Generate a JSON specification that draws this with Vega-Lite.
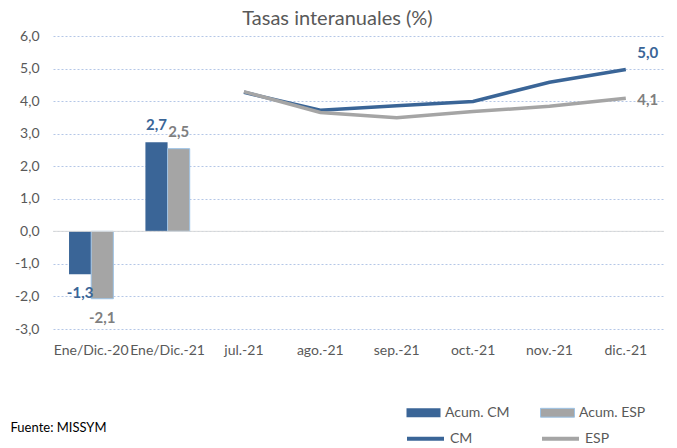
{
  "$schema": "https://vega.github.io/schema/vega-lite/v6.json",
  "width": 611,
  "height": 293,
  "autosize": "none",
  "padding": {"left": 53, "top": 36, "right": 13, "bottom": 119},
  "background": "white",
  "title": {"text": "Tasas interanuales (%)", "fontSize": 20, "fontWeight": "normal", "color": "#595959", "offset": 0, "dx": -21},
  "config": {
    "font": "Lato",
    "locale": {"number": {"decimal": ",", "thousands": ".", "grouping": [3], "currency": ["", " €"], "minus": "-"}},
    "view": {"stroke": null}
  },
  "datasets": {
    "barras": [
      {"cat": "Ene/Dic.-20", "serie": "Acum. CM", "valor": -1.32},
      {"cat": "Ene/Dic.-20", "serie": "Acum. ESP", "valor": -2.07},
      {"cat": "Ene/Dic.-21", "serie": "Acum. CM", "valor": 2.74},
      {"cat": "Ene/Dic.-21", "serie": "Acum. ESP", "valor": 2.54}
    ],
    "lineas": [
      {"cat": "jul.-21", "serie": "CM", "valor": 4.27},
      {"cat": "ago.-21", "serie": "CM", "valor": 3.72},
      {"cat": "sep.-21", "serie": "CM", "valor": 3.86},
      {"cat": "oct.-21", "serie": "CM", "valor": 3.99},
      {"cat": "nov.-21", "serie": "CM", "valor": 4.58},
      {"cat": "dic.-21", "serie": "CM", "valor": 4.97},
      {"cat": "jul.-21", "serie": "ESP", "valor": 4.29},
      {"cat": "ago.-21", "serie": "ESP", "valor": 3.65},
      {"cat": "sep.-21", "serie": "ESP", "valor": 3.49},
      {"cat": "oct.-21", "serie": "ESP", "valor": 3.68},
      {"cat": "nov.-21", "serie": "ESP", "valor": 3.84},
      {"cat": "dic.-21", "serie": "ESP", "valor": 4.09}
    ]
  },
  "encoding": {
    "y": {
      "field": "valor", "type": "quantitative",
      "scale": {"domain": [-3, 6], "nice": false, "zero": false},
      "title": null,
      "axis": {
        "values": [-3, -2, -1, 0, 1, 2, 3, 4, 5, 6], "format": ".1f", "labelOverlap": false, "tickCount": 10,
        "grid": true, "gridDash": [2, 2], "gridColor": "#B4C7E7", "domain": false, "ticks": false,
        "labelPadding": 14, "labelFontSize": 14, "labelColor": "#595959"
      }
    }
  },
  "layer": [
    {
      "data": {"name": "barras"},
      "mark": {"type": "bar"},
      "encoding": {
        "x": {
          "field": "cat", "type": "nominal", "sort": null,
          "scale": {"domain": ["Ene/Dic.-20", "Ene/Dic.-21", "jul.-21", "ago.-21", "sep.-21", "oct.-21", "nov.-21", "dic.-21"], "paddingInner": 0.42, "paddingOuter": 0.21},
          "title": "Fuente: MISSYM",
          "axis": {
            "domain": false, "ticks": false, "grid": false, "labelAngle": 0, "labelPadding": 14,
            "labelFontSize": 14, "labelColor": "#595959", "labelOverlap": false,
            "titleX": -43, "titleY": 98, "titleAlign": "left", "titleBaseline": "middle",
            "titleFontWeight": "normal", "titleFontSize": 13, "titleColor": "#000000"
          }
        },
        "xOffset": {"field": "serie", "type": "nominal", "scale": {"paddingInner": 0, "paddingOuter": 0}},
        "color": {
          "field": "serie", "type": "nominal",
          "scale": {"domain": ["Acum. CM", "Acum. ESP"], "range": ["#3A6597", "#A5A5A5"]},
          "legend": {
            "orient": "none", "legendX": 353, "legendY": 359, "title": null,
            "direction": "horizontal", "columns": 2, "columnPadding": 28, "padding": 0,
            "symbolType": "M-1,-0.26H1V0.26H-1Z", "symbolSize": 1156, "symbolStrokeWidth": 1,
            "labelFontSize": 14, "labelColor": "#595959", "labelOffset": 4,
            "encode": {"symbols": {"update": {"stroke": {"signal": "datum.value === 'Acum. ESP' ? '#9DC3E6' : 'transparent'"}}}}
          }
        }
      }
    },
    {
      "data": {"name": "barras"},
      "transform": [{"filter": "datum.serie === 'Acum. ESP'"}],
      "mark": {"type": "bar", "fill": "transparent", "stroke": "#9DC3E6", "strokeWidth": 1},
      "encoding": {
        "x": {"field": "cat", "type": "nominal", "sort": null},
        "xOffset": {"field": "serie", "type": "nominal"}
      }
    },
    {
      "data": {"values": [{"valor": 0}]},
      "mark": {"type": "rule", "color": "#D9D9D9", "strokeWidth": 1},
      "encoding": {}
    },
    {
      "data": {"name": "barras"},
      "transform": [{"filter": "datum.valor < 0"}],
      "mark": {"type": "text", "baseline": "top", "dy": 12, "fontWeight": "bold", "fontSize": 15},
      "encoding": {
        "x": {"field": "cat", "type": "nominal", "sort": null},
        "xOffset": {"field": "serie", "type": "nominal"},
        "text": {"field": "valor", "type": "quantitative", "format": ".1f"},
        "color": {"condition": {"test": "datum.serie === 'Acum. CM'", "value": "#3A6597"}, "value": "#7F7F7F"}
      }
    },
    {
      "data": {"name": "barras"},
      "transform": [{"filter": "datum.valor >= 0"}],
      "mark": {"type": "text", "baseline": "bottom", "dy": -9, "fontWeight": "bold", "fontSize": 15},
      "encoding": {
        "x": {"field": "cat", "type": "nominal", "sort": null},
        "xOffset": {"field": "serie", "type": "nominal"},
        "text": {"field": "valor", "type": "quantitative", "format": ".1f"},
        "color": {"condition": {"test": "datum.serie === 'Acum. CM'", "value": "#3A6597"}, "value": "#7F7F7F"}
      }
    },
    {
      "data": {"name": "lineas"},
      "mark": {"type": "line", "strokeWidth": 3.5},
      "encoding": {
        "x": {"field": "cat", "type": "nominal", "sort": null},
        "stroke": {
          "field": "serie", "type": "nominal",
          "scale": {"domain": ["CM", "ESP"], "range": ["#3A6597", "#A5A5A5"]},
          "legend": {
            "orient": "none", "legendX": 352, "legendY": 382, "title": null,
            "direction": "horizontal", "columns": 2, "columnPadding": 61, "padding": 0,
            "symbolType": "stroke", "symbolSize": 1369, "symbolStrokeWidth": 4,
            "labelFontSize": 14, "labelColor": "#595959", "labelOffset": 4
          }
        }
      }
    },
    {
      "data": {"name": "lineas"},
      "transform": [{"filter": "datum.serie === 'CM' && datum.cat === 'dic.-21'"}],
      "mark": {"type": "text", "dx": 22, "dy": -17, "fontWeight": "bold", "fontSize": 15, "color": "#3A6597"},
      "encoding": {
        "x": {"field": "cat", "type": "nominal", "sort": null},
        "text": {"field": "valor", "type": "quantitative", "format": ".1f"}
      }
    },
    {
      "data": {"name": "lineas"},
      "transform": [{"filter": "datum.serie === 'ESP' && datum.cat === 'dic.-21'"}],
      "mark": {"type": "text", "dx": 22, "dy": 2, "fontWeight": "bold", "fontSize": 15, "color": "#7F7F7F"},
      "encoding": {
        "x": {"field": "cat", "type": "nominal", "sort": null},
        "text": {"field": "valor", "type": "quantitative", "format": ".1f"}
      }
    }
  ]
}
